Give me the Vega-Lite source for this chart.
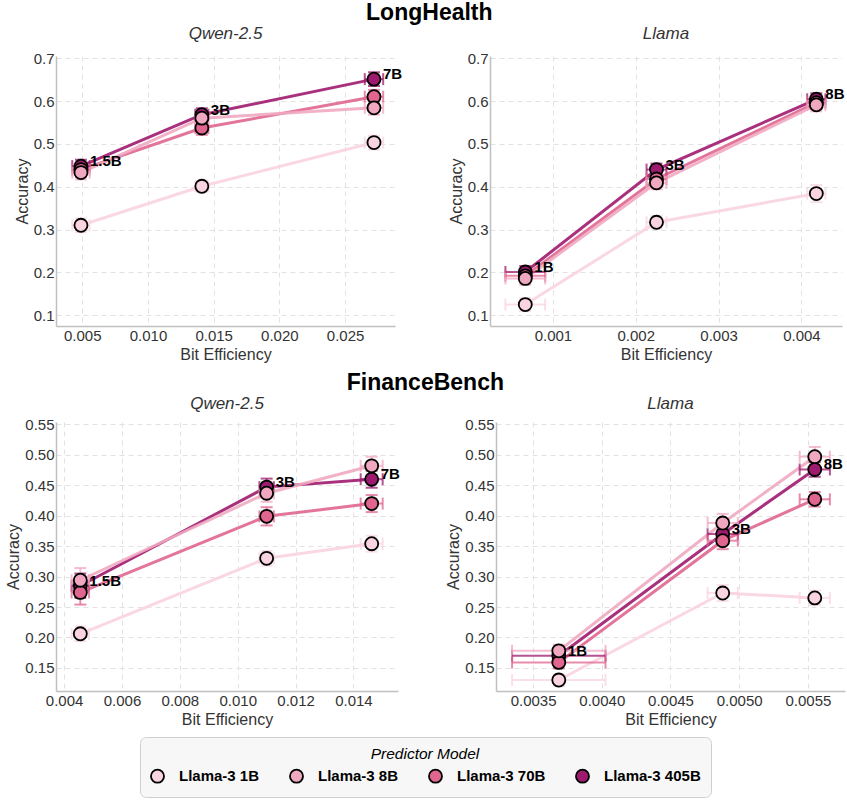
{
  "$schema": "https://vega.github.io/schema/vega-lite/v6.json",
  "padding": {"left": 5, "top": 2, "right": 2, "bottom": 2},
  "spacing": 10,
  "datasets": {
    "lh_qwen": [
      {"model": "Llama-3 405B", "size": "1.5B", "x": 0.0049, "y": 0.448, "xerr": 0.00066, "yerr": 0.015},
      {"model": "Llama-3 405B", "size": "3B", "x": 0.0141, "y": 0.568, "xerr": 0.0005, "yerr": 0.015},
      {"model": "Llama-3 405B", "size": "7B", "x": 0.0272, "y": 0.651, "xerr": 0.0007, "yerr": 0.016},
      {"model": "Llama-3 70B", "size": "1.5B", "x": 0.0049, "y": 0.440, "xerr": 0.00066, "yerr": 0.016},
      {"model": "Llama-3 70B", "size": "3B", "x": 0.0141, "y": 0.537, "xerr": 0.0005, "yerr": 0.016},
      {"model": "Llama-3 70B", "size": "7B", "x": 0.0272, "y": 0.610, "xerr": 0.0007, "yerr": 0.016},
      {"model": "Llama-3 8B", "size": "1.5B", "x": 0.0049, "y": 0.433, "xerr": 0.00066, "yerr": 0.016},
      {"model": "Llama-3 8B", "size": "3B", "x": 0.0141, "y": 0.560, "xerr": 0.0005, "yerr": 0.015},
      {"model": "Llama-3 8B", "size": "7B", "x": 0.0272, "y": 0.584, "xerr": 0.0007, "yerr": 0.016},
      {"model": "Llama-3 1B", "size": "1.5B", "x": 0.0049, "y": 0.310, "xerr": 0.00066, "yerr": 0.016},
      {"model": "Llama-3 1B", "size": "3B", "x": 0.0141, "y": 0.401, "xerr": 0.0005, "yerr": 0.013},
      {"model": "Llama-3 1B", "size": "7B", "x": 0.0272, "y": 0.503, "xerr": 0.0007, "yerr": 0.016}
    ],
    "lh_llama": [
      {"model": "Llama-3 405B", "size": "1B", "x": 0.000666, "y": 0.201, "xerr": 0.00024, "yerr": 0.014},
      {"model": "Llama-3 405B", "size": "3B", "x": 0.00225, "y": 0.440, "xerr": 0.00012, "yerr": 0.014},
      {"model": "Llama-3 405B", "size": "8B", "x": 0.00418, "y": 0.604, "xerr": 0.00011, "yerr": 0.014},
      {"model": "Llama-3 70B", "size": "1B", "x": 0.000666, "y": 0.192, "xerr": 0.00024, "yerr": 0.015},
      {"model": "Llama-3 70B", "size": "3B", "x": 0.00225, "y": 0.418, "xerr": 0.00012, "yerr": 0.015},
      {"model": "Llama-3 70B", "size": "8B", "x": 0.00418, "y": 0.596, "xerr": 0.00011, "yerr": 0.015},
      {"model": "Llama-3 8B", "size": "1B", "x": 0.000666, "y": 0.186, "xerr": 0.00024, "yerr": 0.015},
      {"model": "Llama-3 8B", "size": "3B", "x": 0.00225, "y": 0.409, "xerr": 0.00012, "yerr": 0.015},
      {"model": "Llama-3 8B", "size": "8B", "x": 0.00418, "y": 0.591, "xerr": 0.00011, "yerr": 0.015},
      {"model": "Llama-3 1B", "size": "1B", "x": 0.000666, "y": 0.125, "xerr": 0.00024, "yerr": 0.015},
      {"model": "Llama-3 1B", "size": "3B", "x": 0.00225, "y": 0.317, "xerr": 0.00012, "yerr": 0.015},
      {"model": "Llama-3 1B", "size": "8B", "x": 0.00418, "y": 0.384, "xerr": 0.00011, "yerr": 0.02}
    ],
    "fb_qwen": [
      {"model": "Llama-3 405B", "size": "1.5B", "x": 0.00456, "y": 0.285, "xerr": 0.0003, "yerr": 0.02},
      {"model": "Llama-3 405B", "size": "3B", "x": 0.0110, "y": 0.447, "xerr": 0.00025, "yerr": 0.014},
      {"model": "Llama-3 405B", "size": "7B", "x": 0.01463, "y": 0.460, "xerr": 0.00038, "yerr": 0.014},
      {"model": "Llama-3 70B", "size": "1.5B", "x": 0.00456, "y": 0.274, "xerr": 0.0003, "yerr": 0.02},
      {"model": "Llama-3 70B", "size": "3B", "x": 0.0110, "y": 0.399, "xerr": 0.00025, "yerr": 0.015},
      {"model": "Llama-3 70B", "size": "7B", "x": 0.01463, "y": 0.420, "xerr": 0.00038, "yerr": 0.014},
      {"model": "Llama-3 8B", "size": "1.5B", "x": 0.00456, "y": 0.294, "xerr": 0.0003, "yerr": 0.02},
      {"model": "Llama-3 8B", "size": "3B", "x": 0.0110, "y": 0.437, "xerr": 0.00025, "yerr": 0.014},
      {"model": "Llama-3 8B", "size": "7B", "x": 0.01463, "y": 0.482, "xerr": 0.00038, "yerr": 0.015},
      {"model": "Llama-3 1B", "size": "1.5B", "x": 0.00456, "y": 0.206, "xerr": 0.0003, "yerr": 0.012},
      {"model": "Llama-3 1B", "size": "3B", "x": 0.0110, "y": 0.330, "xerr": 0.00025, "yerr": 0.012},
      {"model": "Llama-3 1B", "size": "7B", "x": 0.01463, "y": 0.354, "xerr": 0.00038, "yerr": 0.013}
    ],
    "fb_llama": [
      {"model": "Llama-3 405B", "size": "1B", "x": 0.003687, "y": 0.170, "xerr": 0.00034, "yerr": 0.01},
      {"model": "Llama-3 405B", "size": "3B", "x": 0.00488, "y": 0.370, "xerr": 0.00011, "yerr": 0.014},
      {"model": "Llama-3 405B", "size": "8B", "x": 0.00555, "y": 0.476, "xerr": 0.00011, "yerr": 0.012},
      {"model": "Llama-3 70B", "size": "1B", "x": 0.003687, "y": 0.159, "xerr": 0.00034, "yerr": 0.01},
      {"model": "Llama-3 70B", "size": "3B", "x": 0.00488, "y": 0.359, "xerr": 0.00011, "yerr": 0.014},
      {"model": "Llama-3 70B", "size": "8B", "x": 0.00555, "y": 0.427, "xerr": 0.00011, "yerr": 0.012},
      {"model": "Llama-3 8B", "size": "1B", "x": 0.003687, "y": 0.178, "xerr": 0.00034, "yerr": 0.01},
      {"model": "Llama-3 8B", "size": "3B", "x": 0.00488, "y": 0.388, "xerr": 0.00011, "yerr": 0.015},
      {"model": "Llama-3 8B", "size": "8B", "x": 0.00555, "y": 0.497, "xerr": 0.00011, "yerr": 0.016},
      {"model": "Llama-3 1B", "size": "1B", "x": 0.003687, "y": 0.130, "xerr": 0.00034, "yerr": 0.01},
      {"model": "Llama-3 1B", "size": "3B", "x": 0.00488, "y": 0.273, "xerr": 0.00011, "yerr": 0.013},
      {"model": "Llama-3 1B", "size": "8B", "x": 0.00555, "y": 0.265, "xerr": 0.00011, "yerr": 0.012}
    ]
  },
  "vconcat": [
    {
      "title": {"text": "LongHealth", "fontSize": 23, "fontWeight": "bold", "color": "black", "anchor": "middle", "offset": 0},
      "spacing": 45,
      "hconcat": [
        {
          "width": 339, "height": 270,
          "title": {"text": "Qwen-2.5", "fontSize": 17, "fontStyle": "italic", "fontWeight": "normal", "color": "#333", "offset": 8},
          "data": {"name": "lh_qwen"},
          "encoding": {
            "x": {"field": "x", "type": "quantitative", "scale": {"domain": [0.003, 0.0288], "nice": false, "zero": false}, "axis": {"values": [0.005, 0.01, 0.015, 0.02, 0.025], "format": ".3f", "title": "Bit Efficiency"}},
            "y": {"field": "y", "type": "quantitative", "scale": {"domain": [0.075, 0.705], "nice": false, "zero": false}, "axis": {"values": [0.1, 0.2, 0.3, 0.4, 0.5, 0.6, 0.7], "format": ".1f", "title": "Accuracy"}}
          },
          "layer": [
            {"mark": {"type": "line", "strokeWidth": 3, "opacity": 0.9}, "encoding": {"color": {"field": "model", "type": "nominal", "scale": {"domain": ["Llama-3 405B", "Llama-3 70B", "Llama-3 8B", "Llama-3 1B"], "range": ["#9e1a6e", "#e06690", "#f0a8c0", "#f9d4e0"]}, "legend": null}}},
            {"mark": {"type": "errorbar", "ticks": {"size": 12}, "thickness": 2, "opacity": 0.75}, "encoding": {"yError": {"field": "yerr"}, "color": {"field": "model", "type": "nominal", "legend": null}}},
            {"mark": {"type": "errorbar", "ticks": {"size": 12}, "thickness": 2, "opacity": 0.75}, "encoding": {"xError": {"field": "xerr"}, "color": {"field": "model", "type": "nominal", "legend": null}}},
            {"mark": {"type": "point", "filled": true, "size": 170, "stroke": "black", "strokeWidth": 1.8, "opacity": 1}, "encoding": {"fill": {"field": "model", "type": "nominal", "title": "Predictor Model", "scale": {"domain": ["Llama-3 1B", "Llama-3 8B", "Llama-3 70B", "Llama-3 405B"], "range": ["#f9d4e0", "#f0a8c0", "#e06690", "#9e1a6e"]}, "legend": {"symbolType": "circle", "symbolStrokeColor": "black", "symbolStrokeWidth": 1.8}}}},
            {"transform": [{"filter": "datum.model === 'Llama-3 405B'"}], "mark": {"type": "text", "align": "left", "baseline": "alphabetic", "dx": 9, "dy": 0, "fontSize": 15, "fontWeight": "bold", "font": "Liberation Sans", "color": "black"}, "encoding": {"text": {"field": "size"}}}
          ]
        },
        {
          "width": 352, "height": 270,
          "title": {"text": "Llama", "fontSize": 17, "fontStyle": "italic", "fontWeight": "normal", "color": "#333", "offset": 8},
          "data": {"name": "lh_llama"},
          "encoding": {
            "x": {"field": "x", "type": "quantitative", "scale": {"domain": [0.00024, 0.00449], "nice": false, "zero": false}, "axis": {"values": [0.001, 0.002, 0.003, 0.004], "format": ".3f", "title": "Bit Efficiency"}},
            "y": {"field": "y", "type": "quantitative", "scale": {"domain": [0.075, 0.705], "nice": false, "zero": false}, "axis": {"values": [0.1, 0.2, 0.3, 0.4, 0.5, 0.6, 0.7], "format": ".1f", "title": "Accuracy"}}
          },
          "layer": [
            {"mark": {"type": "line", "strokeWidth": 3, "opacity": 0.9}, "encoding": {"color": {"field": "model", "type": "nominal", "scale": {"domain": ["Llama-3 405B", "Llama-3 70B", "Llama-3 8B", "Llama-3 1B"], "range": ["#9e1a6e", "#e06690", "#f0a8c0", "#f9d4e0"]}, "legend": null}}},
            {"mark": {"type": "errorbar", "ticks": {"size": 12}, "thickness": 2, "opacity": 0.75}, "encoding": {"yError": {"field": "yerr"}, "color": {"field": "model", "type": "nominal", "legend": null}}},
            {"mark": {"type": "errorbar", "ticks": {"size": 12}, "thickness": 2, "opacity": 0.75}, "encoding": {"xError": {"field": "xerr"}, "color": {"field": "model", "type": "nominal", "legend": null}}},
            {"mark": {"type": "point", "filled": true, "size": 170, "stroke": "black", "strokeWidth": 1.8, "opacity": 1}, "encoding": {"fill": {"field": "model", "type": "nominal", "title": "Predictor Model", "scale": {"domain": ["Llama-3 1B", "Llama-3 8B", "Llama-3 70B", "Llama-3 405B"], "range": ["#f9d4e0", "#f0a8c0", "#e06690", "#9e1a6e"]}, "legend": {"symbolType": "circle", "symbolStrokeColor": "black", "symbolStrokeWidth": 1.8}}}},
            {"transform": [{"filter": "datum.model === 'Llama-3 405B'"}], "mark": {"type": "text", "align": "left", "baseline": "alphabetic", "dx": 9, "dy": 0, "fontSize": 15, "fontWeight": "bold", "font": "Liberation Sans", "color": "black"}, "encoding": {"text": {"field": "size"}}}
          ]
        }
      ]
    },
    {
      "title": {"text": "FinanceBench", "fontSize": 23, "fontWeight": "bold", "color": "black", "anchor": "middle", "offset": 0},
      "spacing": 45,
      "hconcat": [
        {
          "width": 342, "height": 269,
          "title": {"text": "Qwen-2.5", "fontSize": 17, "fontStyle": "italic", "fontWeight": "normal", "color": "#333", "offset": 4},
          "data": {"name": "fb_qwen"},
          "encoding": {
            "x": {"field": "x", "type": "quantitative", "scale": {"domain": [0.00372, 0.01554], "nice": false, "zero": false}, "axis": {"values": [0.004, 0.006, 0.008, 0.01, 0.012, 0.014], "format": ".3f", "title": "Bit Efficiency"}},
            "y": {"field": "y", "type": "quantitative", "scale": {"domain": [0.112, 0.554], "nice": false, "zero": false}, "axis": {"values": [0.15, 0.2, 0.25, 0.3, 0.35, 0.4, 0.45, 0.5, 0.55], "format": ".2f", "title": "Accuracy"}}
          },
          "layer": [
            {"mark": {"type": "line", "strokeWidth": 3, "opacity": 0.9}, "encoding": {"color": {"field": "model", "type": "nominal", "scale": {"domain": ["Llama-3 405B", "Llama-3 70B", "Llama-3 8B", "Llama-3 1B"], "range": ["#9e1a6e", "#e06690", "#f0a8c0", "#f9d4e0"]}, "legend": null}}},
            {"mark": {"type": "errorbar", "ticks": {"size": 12}, "thickness": 2, "opacity": 0.75}, "encoding": {"yError": {"field": "yerr"}, "color": {"field": "model", "type": "nominal", "legend": null}}},
            {"mark": {"type": "errorbar", "ticks": {"size": 12}, "thickness": 2, "opacity": 0.75}, "encoding": {"xError": {"field": "xerr"}, "color": {"field": "model", "type": "nominal", "legend": null}}},
            {"mark": {"type": "point", "filled": true, "size": 170, "stroke": "black", "strokeWidth": 1.8, "opacity": 1}, "encoding": {"fill": {"field": "model", "type": "nominal", "title": "Predictor Model", "scale": {"domain": ["Llama-3 1B", "Llama-3 8B", "Llama-3 70B", "Llama-3 405B"], "range": ["#f9d4e0", "#f0a8c0", "#e06690", "#9e1a6e"]}, "legend": {"symbolType": "circle", "symbolStrokeColor": "black", "symbolStrokeWidth": 1.8}}}},
            {"transform": [{"filter": "datum.model === 'Llama-3 405B'"}], "mark": {"type": "text", "align": "left", "baseline": "alphabetic", "dx": 9, "dy": 0, "fontSize": 15, "fontWeight": "bold", "font": "Liberation Sans", "color": "black"}, "encoding": {"text": {"field": "size"}}}
          ]
        },
        {
          "width": 349, "height": 269,
          "title": {"text": "Llama", "fontSize": 17, "fontStyle": "italic", "fontWeight": "normal", "color": "#333", "offset": 4},
          "data": {"name": "fb_llama"},
          "encoding": {
            "x": {"field": "x", "type": "quantitative", "scale": {"domain": [0.00323, 0.00577], "nice": false, "zero": false}, "axis": {"values": [0.0035, 0.004, 0.0045, 0.005, 0.0055], "format": ".4f", "title": "Bit Efficiency"}},
            "y": {"field": "y", "type": "quantitative", "scale": {"domain": [0.112, 0.554], "nice": false, "zero": false}, "axis": {"values": [0.15, 0.2, 0.25, 0.3, 0.35, 0.4, 0.45, 0.5, 0.55], "format": ".2f", "title": "Accuracy"}}
          },
          "layer": [
            {"mark": {"type": "line", "strokeWidth": 3, "opacity": 0.9}, "encoding": {"color": {"field": "model", "type": "nominal", "scale": {"domain": ["Llama-3 405B", "Llama-3 70B", "Llama-3 8B", "Llama-3 1B"], "range": ["#9e1a6e", "#e06690", "#f0a8c0", "#f9d4e0"]}, "legend": null}}},
            {"mark": {"type": "errorbar", "ticks": {"size": 12}, "thickness": 2, "opacity": 0.75}, "encoding": {"yError": {"field": "yerr"}, "color": {"field": "model", "type": "nominal", "legend": null}}},
            {"mark": {"type": "errorbar", "ticks": {"size": 12}, "thickness": 2, "opacity": 0.75}, "encoding": {"xError": {"field": "xerr"}, "color": {"field": "model", "type": "nominal", "legend": null}}},
            {"mark": {"type": "point", "filled": true, "size": 170, "stroke": "black", "strokeWidth": 1.8, "opacity": 1}, "encoding": {"fill": {"field": "model", "type": "nominal", "title": "Predictor Model", "scale": {"domain": ["Llama-3 1B", "Llama-3 8B", "Llama-3 70B", "Llama-3 405B"], "range": ["#f9d4e0", "#f0a8c0", "#e06690", "#9e1a6e"]}, "legend": {"symbolType": "circle", "symbolStrokeColor": "black", "symbolStrokeWidth": 1.8}}}},
            {"transform": [{"filter": "datum.model === 'Llama-3 405B'"}], "mark": {"type": "text", "align": "left", "baseline": "alphabetic", "dx": 9, "dy": 0, "fontSize": 15, "fontWeight": "bold", "font": "Liberation Sans", "color": "black"}, "encoding": {"text": {"field": "size"}}}
          ]
        }
      ]
    }
  ],
  "config": {
    "font": "Liberation Sans",
    "view": {"stroke": null},
    "title": {"font": "Liberation Sans"},
    "axis": {
      "labelFont": "Liberation Sans", "labelFontSize": 15, "labelColor": "#333", "labelPadding": 2,
      "titleFont": "Liberation Sans", "titleFontSize": 16, "titleFontWeight": "normal", "titleColor": "#333", "titlePadding": 3,
      "domainColor": "#c0c0c0", "domainWidth": 1.5, "tickSize": 0,
      "gridColor": "#e2e2e2", "gridDash": [5, 4], "gridWidth": 1
    },
    "legend": {
      "orient": "bottom", "direction": "horizontal", "columns": 4,
      "layout": {"bottom": {"anchor": "middle"}},
      "fillColor": "#f7f7f7", "strokeColor": "#cfcfcf", "cornerRadius": 6, "padding": 10, "offset": 10,
      "titleFont": "Liberation Sans", "titleFontSize": 15.5, "titleFontStyle": "italic", "titleFontWeight": "normal", "titleColor": "black", "titleAnchor": "middle", "titlePadding": 6,
      "labelFont": "Liberation Sans", "labelFontSize": 15, "labelFontWeight": "bold", "labelColor": "black", "labelOffset": 14,
      "symbolType": "circle", "symbolSize": 170, "symbolStrokeColor": "black", "symbolStrokeWidth": 1.8, "columnPadding": 26
    }
  }
}
